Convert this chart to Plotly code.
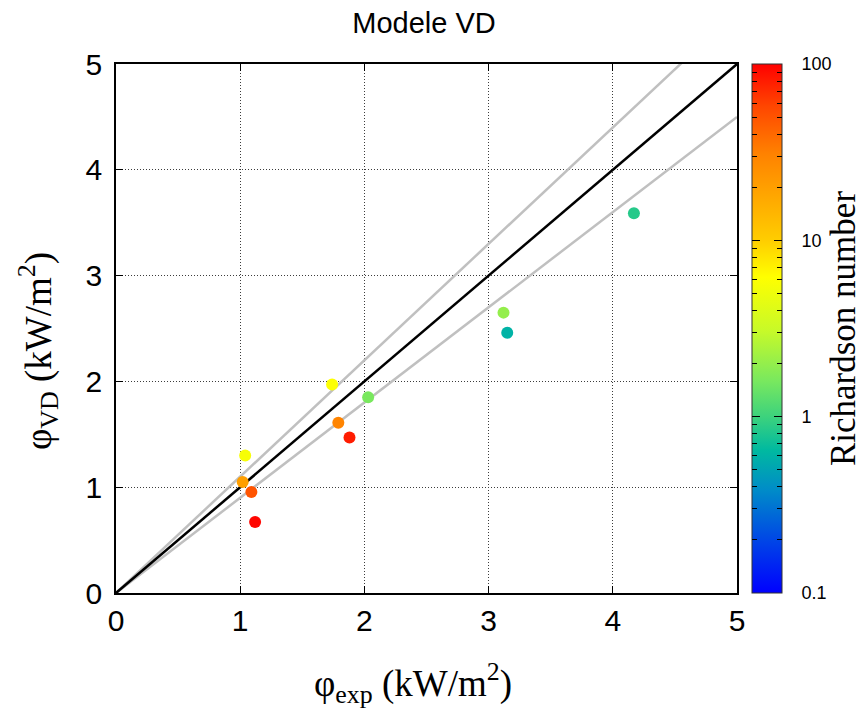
import numpy as np
import plotly.graph_objects as go

# Data
phi_exp = [1.04, 1.02, 1.09, 1.12, 1.74, 1.79, 1.88, 2.03, 3.12, 3.15, 4.17]
phi_vd = [1.30, 1.05, 0.955, 0.67, 1.97, 1.61, 1.47, 1.85, 2.65, 2.46, 3.59]
richardson = [5.6, 20, 50, 95, 6, 30, 80, 1.6, 2.0, 0.6, 0.85]

ref_x = [0, 5]
ratio_lines = [1.1, 0.9]
cbar_tick_vals = [0.1, 1, 10, 100]
cbar_minor = [0.2, 0.3, 0.4, 0.5, 0.6, 0.7, 0.8, 0.9,
              2, 3, 4, 5, 6, 7, 8, 9,
              20, 30, 40, 50, 60, 70, 80, 90]
axis_ticks = [0, 1, 2, 3, 4, 5]

colorscale = [
    [0.0, "rgb(0,0,255)"],
    [0.10, "rgb(0,70,230)"],
    [0.195, "rgb(0,140,200)"],
    [0.27, "rgb(0,185,160)"],
    [0.333, "rgb(60,210,125)"],
    [0.40, "rgb(120,232,95)"],
    [0.497, "rgb(200,250,40)"],
    [0.597, "rgb(255,255,0)"],
    [0.667, "rgb(255,205,0)"],
    [0.83, "rgb(255,130,0)"],
    [0.92, "rgb(255,70,0)"],
    [1.0, "rgb(255,0,0)"],
]

sans = "Liberation Sans, Arial, Helvetica, sans-serif"
serif = "Liberation Serif, Times New Roman, serif"

# the page body has an 8px margin, so the figure is a bit smaller than the window
W, H = 857, 703
ML, MT = 108, 56
plot_w, plot_h = 621, 529
MR = W - ML - plot_w
MB = H - MT - plot_h
CB_X = 1 + 15 / plot_w   # colorbar left edge in paper fraction
CB_THICK = 30            # px

fig = go.Figure()

for k in ratio_lines:
    fig.add_trace(go.Scatter(
        x=ref_x, y=[k * v for v in ref_x], mode="lines",
        line=dict(color="rgb(192,192,192)", width=2.5),
        showlegend=False, hoverinfo="skip"))

fig.add_trace(go.Scatter(
    x=ref_x, y=ref_x, mode="lines",
    line=dict(color="black", width=2.5),
    showlegend=False, hoverinfo="skip"))

lo = float(np.log10(cbar_tick_vals[0]))
hi = float(np.log10(cbar_tick_vals[-1]))

fig.add_trace(go.Scatter(
    x=phi_exp, y=phi_vd, mode="markers",
    marker=dict(
        size=12,
        color=np.log10(richardson),
        colorscale=colorscale,
        cmin=lo, cmax=hi,
        line=dict(width=0),
        colorbar=dict(
            x=CB_X, xanchor="left", xref="paper",
            y=0.5, yanchor="middle", len=1.0, lenmode="fraction",
            thickness=CB_THICK, outlinewidth=1, outlinecolor="#333",
            tickmode="array",
            tickvals=list(np.log10(cbar_tick_vals)),
            ticktext=["%g" % v for v in cbar_tick_vals],
            ticks="outside", ticklen=16, tickcolor="rgba(0,0,0,0)",
            tickfont=dict(family=sans, size=18, color="black"),
            title=dict(text="Richardson number", side="right",
                       font=dict(family=serif, size=35, color="black")),
            ypad=0, xpad=0,
        ),
    ),
    showlegend=False))

# transparent overlay colorbars that only draw tick marks on both edges
transparent = [[0, "rgba(0,0,0,0)"], [1, "rgba(0,0,0,0)"]]
for vals, ln in ((cbar_tick_vals[1:-1], 8), (cbar_minor, 5)):
    tv = list(np.log10(vals))
    for xpos, thick, tk in ((CB_X, CB_THICK, "inside"),
                            (CB_X - 1 / plot_w, 1, "outside")):
        fig.add_trace(go.Scatter(
            x=[None], y=[None], mode="markers", showlegend=False,
            hoverinfo="skip",
            marker=dict(color=[lo], cmin=lo, cmax=hi, colorscale=transparent,
                        showscale=True,
                        colorbar=dict(
                            x=xpos, xanchor="left", xref="paper",
                            y=0.5, yanchor="middle", len=1.0,
                            lenmode="fraction", thickness=thick,
                            outlinewidth=0, xpad=0, ypad=0,
                            bgcolor="rgba(0,0,0,0)",
                            tickmode="array", tickvals=tv,
                            ticks=tk, ticklen=ln, tickcolor="black",
                            tickwidth=1, showticklabels=False))))

axis_common = dict(
    range=[0, 5], tickvals=axis_ticks,
    showgrid=True, gridcolor="rgb(60,60,60)", griddash="1px,2px", gridwidth=1,
    zeroline=False, showline=True, linecolor="black", linewidth=1.5,
    mirror="ticks", ticks="inside", ticklen=7, tickcolor="black",
    tickfont=dict(family=sans, size=30, color="black"),
)

fig.update_xaxes(**axis_common, ticklabelstandoff=0)
fig.update_yaxes(**axis_common, ticklabelstandoff=6)

# axis titles (placed as annotations, slightly off-centre like the reference)
fig.add_annotation(text="φ<sub>exp</sub> (kW/m<sup>2</sup>)",
                   xref="paper", yref="paper",
                   x=(405 - ML) / plot_w, y=1 - (675 - MT) / plot_h,
                   xanchor="center", yanchor="middle", showarrow=False,
                   font=dict(family=serif, size=37, color="black"))
fig.add_annotation(text="φ<sub>VD</sub> (kW/m<sup>2</sup>)",
                   xref="paper", yref="paper", textangle=-90,
                   x=(30 - ML) / plot_w, y=1 - (343 - MT) / plot_h,
                   xanchor="center", yanchor="middle", showarrow=False,
                   font=dict(family=serif, size=37, color="black"))

fig.update_layout(
    width=W, height=H,
    margin=dict(l=ML, r=MR, t=MT, b=MB, autoexpand=False),
    paper_bgcolor="white", plot_bgcolor="white",
    title=dict(text="Modele VD", x=416 / W, xanchor="center",
               y=1 - 15 / H, yanchor="middle",
               font=dict(family=sans, size=29, color="black")),
)

fig.write_html("out.html")
